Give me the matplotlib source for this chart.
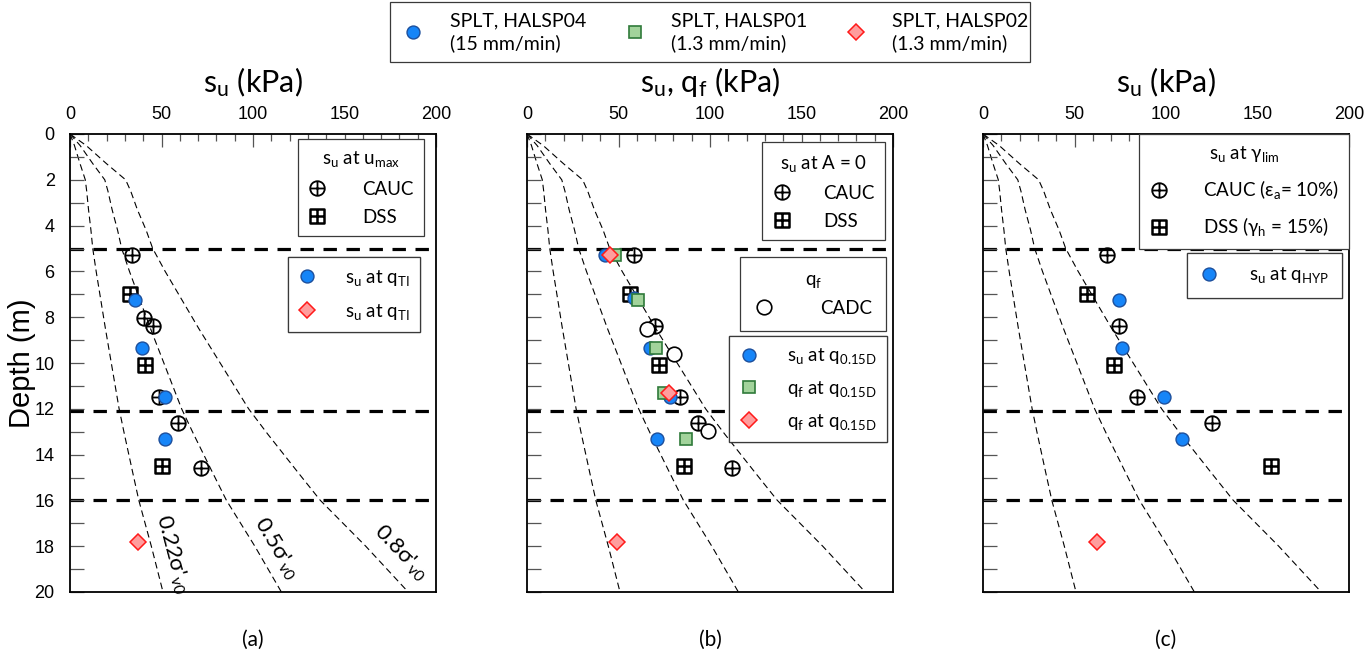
import matplotlib
matplotlib.use("Agg")
import numpy as np
import matplotlib.pyplot as plt
from matplotlib.path import Path
from matplotlib.lines import Line2D
from matplotlib.patches import Rectangle

plt.rcParams['font.family'] = ['Lato', 'DejaVu Sans']
plt.rcParams['mathtext.fontset'] = 'custom'
plt.rcParams['mathtext.rm'] = 'Lato'
plt.rcParams['mathtext.it'] = 'Lato:italic'
plt.rcParams['mathtext.bf'] = 'Lato:bold'
plt.rcParams['mathtext.fallback'] = 'stixsans'

# ---- effective vertical stress profile (kPa) vs depth (m)
prof_depth = [0, 0.5, 1.3, 2.0, 2.5, 3.3, 4.2, 5.0, 6.0, 8.5, 12.0, 13.1, 14.8, 16.0, 18.0, 20.0]
prof_sv0 = [0, 11, 25, 38, 41.5, 46, 52, 56.5, 65, 88, 122, 135, 156, 171, 202, 231]
sv0_factors = [0.22, 0.5, 0.8]
sv0_labels = ["0.22σ'$_{\\rm v0}$", "0.5σ'$_{\\rm v0}$", "0.8σ'$_{\\rm v0}$"]
label_su = [56.0, 112.5, 180.5]
label_depth = [18.35, 18.1, 18.3]

layer_depths = [5.0, 12.1, 16.0]

# ---- panel (a): s_u at u_max and at q_TI
a_cauc_su = [33.7, 40.4, 45.2, 48.8, 59.2, 71.4]
a_cauc_z = [5.3, 8.05, 8.38, 11.47, 12.6, 14.6]
a_dss_su = [32.8, 41.0, 50.1]
a_dss_z = [7.0, 10.1, 14.5]
a_sp04_su = [35.5, 39.5, 51.9, 51.9]
a_sp04_z = [7.25, 9.33, 11.5, 13.3]
a_sp02_su = [37.0]
a_sp02_z = [17.8]

# ---- panel (b): s_u at A = 0, q_f, and values at q_0.15D
b_cauc_su = [58.3, 70.1, 83.8, 93.5, 112.2]
b_cauc_z = [5.3, 8.38, 11.47, 12.6, 14.6]
b_dss_su = [56.1, 71.9, 85.7]
b_dss_z = [7.0, 10.1, 14.5]
b_cadc_qf = [65.6, 80.2, 99.0]
b_cadc_z = [8.5, 9.62, 12.97]
b_sp04_su = [42.7, 58.3, 67.4, 78.4, 71.1]
b_sp04_z = [5.3, 7.17, 9.33, 11.5, 13.3]
b_sp01_qf = [48.2, 60.4, 70.7, 74.7, 87.0]
b_sp01_z = [5.3, 7.25, 9.33, 11.3, 13.3]
b_sp02_qf = [45.1, 77.8, 49.1]
b_sp02_z = [5.3, 11.3, 17.8]

# ---- panel (c): s_u at gamma_lim and at q_HYP
c_cauc_su = [67.9, 74.5, 84.3, 125.3]
c_cauc_z = [5.3, 8.38, 11.47, 12.6]
c_dss_su = [56.7, 71.7, 157.4]
c_dss_z = [7.0, 10.1, 14.5]
c_sp04_su = [74.3, 75.8, 99.1, 108.7]
c_sp04_z = [7.25, 9.33, 11.5, 13.3]
c_sp02_su = [62.5]
c_sp02_z = [17.8]

x_ticks = [0, 50, 100, 150, 200]
y_ticks = [0, 2, 4, 6, 8, 10, 12, 14, 16, 18, 20]

# ---- marker styles
circ_plus = Path.make_compound_path(
    Path.unit_circle(),
    Path([(-1, 0), (1, 0)]),
    Path([(0, -1), (0, 1)]))
sq_plus = Path.make_compound_path(
    Path([(-1, -1), (1, -1), (1, 1), (-1, 1), (-1, -1)], closed=True),
    Path([(-1, 0), (1, 0)]),
    Path([(0, -1), (0, 1)]))

BLUE_F, BLUE_E = '#1685f8', '#1d4f9c'
GREEN_F, GREEN_E = '#a2d39b', '#2f7a3a'
RED_F, RED_E = '#ff9d9d', '#ff1a1a'

sty_cauc = dict(marker=circ_plus, ms=10.5, mfc='none', mec='k', mew=1.3, ls='none')
sty_dss = dict(marker=sq_plus, ms=9.5, mfc='none', mec='k', mew=1.8, ls='none')
sty_cadc = dict(marker='o', ms=10.5, mfc='white', mec='k', mew=1.2, ls='none')
sty_sp04 = dict(marker='o', ms=9.3, mfc=BLUE_F, mec=BLUE_E, mew=1.0, ls='none')
sty_sp01 = dict(marker='s', ms=8.8, mfc=GREEN_F, mec=GREEN_E, mew=1.2, ls='none')
sty_sp02 = dict(marker='D', ms=7.8, mfc=RED_F, mec=RED_E, mew=1.1, ls='none')

W, H = 1369, 661
fig = plt.figure(figsize=(W / 100, H / 100), dpi=100)

ax_left = [70, 527, 983]
ax_w = 366
ax_top, ax_bot = 134, 592
axes = []
for lx in ax_left:
    axes.append(fig.add_axes([lx / W, 1 - ax_bot / H, ax_w / W, (ax_bot - ax_top) / H]))

LEG_FS = 13.5
FRAME_EC = '#3a3a3a'
tick_font = dict(family='Liberation Sans', size=13)


def base_axes(ax, show_ylabels):
    ax.set_xlim(0, 200)
    ax.set_ylim(20, 0)
    ax.xaxis.set_ticks_position('top')
    ax.xaxis.set_label_position('top')
    ax.set_xticks(x_ticks)
    ax.set_xticks(np.arange(0, 201, 10), minor=True)
    ax.set_yticks(y_ticks)
    ax.set_yticks(np.arange(0, 21, 1), minor=True)
    ax.tick_params(axis='x', which='major', direction='in', length=9, width=0.9,
                   color='#555555', pad=8, top=True, bottom=False,
                   labeltop=True, labelbottom=False)
    ax.tick_params(axis='x', which='minor', direction='in', length=5, width=0.9,
                   color='#555555', top=True, bottom=False)
    ax.tick_params(axis='y', which='both', direction='in', length=10, width=0.9,
                   color='#555555', pad=11, left=True, right=False,
                   labelleft=show_ylabels)
    for lab in ax.get_xticklabels() + ax.get_yticklabels():
        lab.set_fontfamily(tick_font['family'])
        lab.set_fontsize(tick_font['size'])
    for sp in ax.spines.values():
        sp.set_linewidth(1.3)
        sp.set_color('k')
    # stress profile lines
    for f in sv0_factors:
        ax.plot([f * s for s in prof_sv0], prof_depth, color='k', lw=0.8,
                ls=(0, (6, 3.6)), zorder=1)
    for d in layer_depths:
        ax.axhline(d, color='k', lw=2.3, ls=(0, (4.2, 3.0)), zorder=1)


def set_xlabel(ax, text):
    ax.set_xlabel(text, fontsize=22)
    ax.xaxis.label.set_va('center')
    ax.xaxis.set_label_coords(0.5, 1 + (ax_top - 82) / (ax_bot - ax_top))


def style_legend(leg):
    fr = leg.get_frame()
    fr.set_edgecolor(FRAME_EC)
    fr.set_linewidth(0.9)
    fr.set_facecolor('white')
    fr.set_alpha(1)
    return leg


def make_legend(ax, handles, labels, anchor, title=None, tpad=1.65, lsp=0.6,
                bpad=0.55):
    leg = ax.legend(handles, labels, loc='upper right', bbox_to_anchor=anchor,
                    title=title, fontsize=LEG_FS, title_fontsize=LEG_FS,
                    frameon=True, fancybox=False, handlelength=1.0,
                    handletextpad=tpad, labelspacing=lsp, borderpad=bpad,
                    borderaxespad=0.0)
    style_legend(leg)
    ax.add_artist(leg)
    return leg


def H_(sty):
    return Line2D([], [], **sty)


su_txt = "s$_{\\rm u}$"
qf_txt = "q$_{\\rm f}$"

# ---------------- panel (a)
ax = axes[0]
base_axes(ax, True)
ax.plot(a_cauc_su, a_cauc_z, zorder=3, **sty_cauc)
ax.plot(a_dss_su, a_dss_z, zorder=3, **sty_dss)
ax.plot(a_sp04_su, a_sp04_z, zorder=4, **sty_sp04)
ax.plot(a_sp02_su, a_sp02_z, zorder=4, **sty_sp02)
set_xlabel(ax, su_txt + " (kPa)")
ax.set_ylabel("Depth (m)", fontsize=21, family='Liberation Sans')
ax.yaxis.label.set_va('center')
ax.yaxis.set_label_coords((22 - 70) / ax_w, 0.5)
make_legend(ax, [H_(sty_cauc), H_(sty_dss)], ["CAUC", "DSS"],
            (0.967, 0.989), title=su_txt + " at u$_{\\rm max}$", tpad=1.9)
make_legend(ax, [H_(sty_sp04), H_(sty_sp02)],
            [su_txt + " at q$_{\\rm TI}$", su_txt + " at q$_{\\rm TI}$"],
            (0.956, 0.731), tpad=1.5, lsp=0.75)

# ---------------- panel (b)
ax = axes[1]
base_axes(ax, False)
ax.plot(b_cauc_su, b_cauc_z, zorder=3, **sty_cauc)
ax.plot(b_dss_su, b_dss_z, zorder=3, **sty_dss)
ax.plot(b_cadc_qf, b_cadc_z, zorder=3, **sty_cadc)
ax.plot(b_sp04_su, b_sp04_z, zorder=4, **sty_sp04)
ax.plot(b_sp01_qf, b_sp01_z, zorder=5, **sty_sp01)
ax.plot(b_sp02_qf, b_sp02_z, zorder=6, **sty_sp02)
set_xlabel(ax, su_txt + ", " + qf_txt + " (kPa)")
make_legend(ax, [H_(sty_cauc), H_(sty_dss)], ["CAUC", "DSS"],
            (0.978, 0.982), title=su_txt + " at A = 0", tpad=1.7)
make_legend(ax, [H_(sty_cadc)], ["CADC"], (0.981, 0.731), title=qf_txt,
            tpad=2.5, lsp=0.5, bpad=0.75)
make_legend(ax, [H_(sty_sp04), H_(sty_sp01), H_(sty_sp02)],
            [su_txt + " at q$_{\\rm 0.15D}$", qf_txt + " at q$_{\\rm 0.15D}$",
             qf_txt + " at q$_{\\rm 0.15D}$"],
            (0.984, 0.559), tpad=1.55, lsp=0.68)

# ---------------- panel (c)
ax = axes[2]
base_axes(ax, False)
ax.plot(c_cauc_su, c_cauc_z, zorder=3, **sty_cauc)
ax.plot(c_dss_su, c_dss_z, zorder=3, **sty_dss)
ax.plot(c_sp04_su, c_sp04_z, zorder=4, **sty_sp04)
ax.plot(c_sp02_su, c_sp02_z, zorder=4, **sty_sp02)
set_xlabel(ax, su_txt + " (kPa)")
make_legend(ax, [H_(sty_cauc), H_(sty_dss)],
            ["CAUC (ε$_{\\rm a}$= 10%)", "DSS (γ$_{\\rm h}$ = 15%)"],
            (1.0, 1.0), title=su_txt + " at γ$_{\\rm lim}$", tpad=1.85, lsp=0.75)
make_legend(ax, [H_(sty_sp04)], [su_txt + " at q$_{\\rm HYP}$"], (0.98, 0.741),
            tpad=1.6, bpad=0.68)

# ---------------- stress line labels (panel a), aligned with the line direction
ax = axes[0]
for f, lab, xs, zs in zip(sv0_factors, sv0_labels, label_su, label_depth):
    p0 = ax.transData.transform((f * prof_sv0[-3], prof_depth[-3]))
    p1 = ax.transData.transform((f * prof_sv0[-1], prof_depth[-1]))
    ang = np.degrees(np.arctan2(p1[1] - p0[1], p1[0] - p0[0]))
    ax.text(xs, zs, lab, rotation=ang, ha='center', va='center', fontsize=16,
            zorder=5)

# ---------------- panel letters
for lx, tag in zip(ax_left, ["(a)", "(b)", "(c)"]):
    fig.text((lx + ax_w / 2) / W, 1 - 640 / H, tag, ha='center', va='center',
             fontsize=15)

# ---------------- shared series legend with its own frame
top_box = (390, 2, 1030, 62)   # left, top, right, bottom in figure pixels
fig.patches.append(Rectangle((top_box[0] / W, 1 - top_box[3] / H),
                             (top_box[2] - top_box[0]) / W,
                             (top_box[3] - top_box[1]) / H,
                             transform=fig.transFigure, facecolor='white',
                             edgecolor=FRAME_EC, linewidth=0.9, zorder=0))
top_handles = [H_(sty_sp04), H_(sty_sp01), H_(sty_sp02)]
top_labels = ["SPLT, HALSP04\n(15 mm/min)", "SPLT, HALSP01\n(1.3 mm/min)",
              "SPLT, HALSP02\n(1.3 mm/min)"]
tl = fig.legend(top_handles, top_labels, loc='center',
                bbox_to_anchor=(716 / W, 1 - 32 / H), ncol=3, fontsize=14,
                frameon=False, handlelength=1.0,
                handletextpad=1.37, columnspacing=2.0, borderpad=0.0,
                borderaxespad=0.0)
for t in tl.get_texts():
    t.set_linespacing(1.3)

fig.savefig("out.png", dpi=100)
